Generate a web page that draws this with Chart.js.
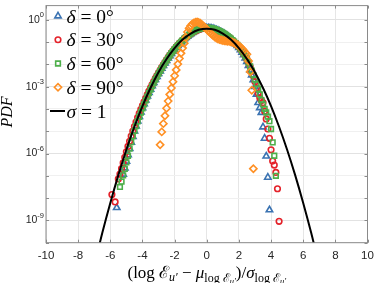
<!DOCTYPE html>
<html>
<head>
<meta charset="utf-8">
<script src="https://cdn.jsdelivr.net/npm/chart.js@4/dist/chart.umd.min.js"></script>
<style>
html, body { margin: 0; padding: 0; background: #fff; }
</style>
</head>
<body>
<canvas id="pdf" width="374" height="283"></canvas>
<script>
// bin centres of the normalised variable
const bins = [
	-5.9, -5.8, -5.7, -5.6, -5.5, -5.4, -5.3, -5.2, -5.1, -5.0,
	-4.9, -4.8, -4.7, -4.6, -4.5, -4.4, -4.3, -4.2, -4.1, -4.0,
	-3.9, -3.8, -3.7, -3.6, -3.5, -3.4, -3.3, -3.2, -3.1, -3.0,
	-2.9, -2.8, -2.7, -2.6, -2.5, -2.4, -2.3, -2.2, -2.1, -2.0,
	-1.9, -1.8, -1.7, -1.6, -1.5, -1.4, -1.3, -1.2, -1.1, -1.0,
	-0.9, -0.8, -0.7, -0.6, -0.5, -0.4, -0.3, -0.2, -0.1, 0.0,
	0.1, 0.2, 0.3, 0.4, 0.5, 0.6, 0.7, 0.8, 0.9, 1.0,
	1.1, 1.2, 1.3, 1.4, 1.5, 1.6, 1.7, 1.8, 1.9, 2.0,
	2.1, 2.2, 2.3, 2.4, 2.5, 2.6, 2.7, 2.8, 2.9, 3.0,
	3.1, 3.2, 3.3, 3.4, 3.5, 3.6, 3.7, 3.8, 3.9, 4.0,
	4.1, 4.2, 4.3, 4.4, 4.5,
]

// log10(PDF) per bin, null where there is no marker
const pdfDelta0 = [
	null, null, null, -8.43, null, null, null, -6.93, -6.65, -6.35,
	-6.06, -5.78, -5.50, -5.24, -5.00, -4.77, -4.55, -4.34, -4.14, -3.95,
	-3.77, -3.60, -3.43, -3.27, -3.12, -2.97, -2.82, -2.68, -2.55, -2.42,
	-2.30, -2.18, -2.06, -1.94, -1.83, -1.72, -1.62, -1.52, -1.42, -1.33,
	-1.24, -1.16, -1.08, -1.00, -0.93, -0.86, -0.80, -0.74, -0.68, -0.63,
	-0.58, -0.53, -0.49, -0.46, -0.43, -0.41, -0.39, -0.38, -0.37, -0.37,
	-0.37, -0.38, -0.39, -0.41, -0.43, -0.46, -0.49, -0.52, -0.56, -0.60,
	-0.64, -0.69, -0.74, -0.80, -0.86, -0.93, -1.00, -1.08, -1.16, -1.25,
	-1.35, -1.46, -1.58, -1.72, -1.88, -2.06, -2.26, -2.48, -2.70, -3.00,
	-3.35, -3.72, -3.95, -4.16, -4.81, -5.32, -6.12, -7.07, -8.53, null,
	null, null, null, null, null,
]
const pdfDelta30 = [
	-7.84, null, -8.17, null, -7.14, -6.92, -6.68, -6.42, -6.17, -5.92,
	-5.68, -5.45, -5.22, -5.00, -4.79, -4.59, -4.39, -4.20, -4.02, -3.85,
	-3.68, -3.52, -3.36, -3.20, -3.05, -2.91, -2.77, -2.63, -2.50, -2.38,
	-2.26, -2.14, -2.02, -1.91, -1.80, -1.69, -1.59, -1.49, -1.40, -1.31,
	-1.22, -1.14, -1.06, -0.99, -0.92, -0.85, -0.79, -0.73, -0.68, -0.63,
	-0.58, -0.54, -0.50, -0.47, -0.44, -0.42, -0.40, -0.39, -0.38, -0.38,
	-0.38, -0.39, -0.40, -0.42, -0.44, -0.46, -0.49, -0.52, -0.56, -0.60,
	-0.64, -0.69, -0.74, -0.80, -0.86, -0.92, -0.99, -1.06, -1.14, -1.22,
	-1.31, -1.41, -1.52, -1.64, -1.78, -1.93, -2.10, -2.30, -2.52, -2.78,
	-3.05, -3.30, -3.50, -3.62, -3.72, -4.10, -4.45, -4.90, -5.32, -5.83,
	-6.34, -6.52, -6.85, -7.58, -9.04,
]
const pdfDelta60 = [
	null, null, null, null, null, -7.50, -7.26, -6.98, -6.69, -6.40,
	-6.10, -5.78, -5.49, -5.22, -4.98, -4.77, -4.56, -4.36, -4.16, -3.97,
	-3.80, -3.62, -3.45, -3.29, -3.13, -2.98, -2.83, -2.69, -2.55, -2.42,
	-2.29, -2.17, -2.05, -1.93, -1.82, -1.71, -1.60, -1.50, -1.41, -1.32,
	-1.23, -1.15, -1.07, -0.99, -0.92, -0.85, -0.79, -0.73, -0.67, -0.62,
	-0.57, -0.52, -0.48, -0.45, -0.42, -0.40, -0.38, -0.37, -0.36, -0.36,
	-0.36, -0.37, -0.38, -0.40, -0.42, -0.45, -0.48, -0.51, -0.55, -0.59,
	-0.63, -0.68, -0.73, -0.79, -0.85, -0.91, -0.98, -1.05, -1.13, -1.21,
	-1.30, -1.40, -1.51, -1.63, -1.77, -1.92, -2.09, -2.28, -2.48, -2.68,
	-2.88, -3.10, -3.35, -3.60, -3.80, -4.00, -4.15, -4.35, -4.55, -4.90,
	-5.50, -6.10, -7.00, null, null,
]
const pdfDelta90 = [
	null, null, null, null, null, null, null, null, null, null,
	null, null, null, null, null, null, null, null, null, null,
	null, null, null, null, null, null, null, null, null, null,
	-5.61, -5.03, -4.66, -4.31, -3.97, -3.65, -3.35, -3.06, -2.78, -2.51,
	-2.25, -1.99, -1.74, -1.50, -1.27, -1.05, -0.80, -0.55, -0.38, -0.27,
	-0.19, -0.14, -0.11, -0.10, -0.12, -0.16, -0.22, -0.29, -0.36, -0.43,
	-0.50, -0.57, -0.64, -0.71, -0.77, -0.82, -0.86, -0.89, -0.91, -0.93,
	-0.94, -0.95, -0.96, -0.97, -0.99, -1.01, -1.04, -1.08, -1.12, -1.17,
	-1.23, -1.30, -1.38, -1.48, -1.55, -1.85, -2.33, -3.16, -6.68, null,
	null, null, null, null, null, null, null, null, null, null,
	null, null, null, null, null,
]

// reference curve (sigma = 1), log10(PDF)
const sigmaX = [-7, -6.5, -6, -5.5, -5, -4.5, -4, -3.5, -3, -2.5, -2, -1.5, -1, -0.5, 0,
	0.5, 1, 1.5, 2, 2.5, 3, 3.5, 4, 4.5, 5, 5.5, 6, 6.5, 7]
const sigmaPdf = [-11.04, -9.57, -8.22, -6.97, -5.83, -4.80, -3.87, -3.06, -2.35, -1.76, -1.27, -0.89, -0.62, -0.45, -0.40,
	-0.45, -0.62, -0.89, -1.27, -1.76, -2.35, -3.06, -3.87, -4.80, -5.83, -6.97, -8.22, -9.57, -11.04]

const deltaLabels = ['0', '30', '60', '90']
const yTickExponents = [0, -3, -6, -9]

const SERIF = '"Liberation Serif", "DejaVu Serif", serif'
const SANS = '"Liberation Sans", Arial, sans-serif'

const markers = [
	{ pointStyle: 'triangle', color: '#3b73b2', radius: 3.7 },
	{ pointStyle: 'circle', color: '#e4222a', radius: 2.8 },
	{ pointStyle: 'rect', color: '#4daf4a', radius: 3.3 },
	{ pointStyle: 'rectRot', color: '#ff9024', radius: 3.6 },
]
const markerLine = 1.6

function toPoints(xs, logs) {
	const points = []
	logs.forEach((v, i) => {
		if (v !== null) points.push({ x: xs[i], y: Math.pow(10, v) })
	})
	return points
}

const seriesLogs = [pdfDelta0, pdfDelta30, pdfDelta60, pdfDelta90]
const datasets = seriesLogs.map((logs, i) => ({
	label: deltaLabels[i],
	data: toPoints(bins, logs),
	showLine: false,
	pointStyle: markers[i].pointStyle,
	pointRadius: markers[i].radius,
	pointBorderWidth: markerLine,
	pointBorderColor: markers[i].color,
	pointBackgroundColor: 'rgba(0,0,0,0)',
	order: 4 - i,
}))
datasets.push({
	label: 'sigma',
	data: toPoints(sigmaX, sigmaPdf),
	showLine: true,
	borderColor: '#000',
	borderWidth: 2,
	pointRadius: 0,
	cubicInterpolationMode: 'monotone',
	order: 0,
})

// box, inner ticks, y labels, axis titles and the legend
const decorations = {
	id: 'decorations',
	afterDraw(chart) {
		const ctx = chart.ctx
		const area = chart.chartArea
		const xs = chart.scales.x
		const ys = chart.scales.y
		ctx.save()

		ctx.strokeStyle = '#8a8a8a'
		ctx.lineWidth = 1
		ctx.strokeRect(area.left, area.top, area.right - area.left, area.bottom - area.top)
		ctx.beginPath()
		xs.ticks.forEach((t) => {
			const px = Math.round(xs.getPixelForValue(t.value)) + 0.5
			ctx.moveTo(px, area.bottom); ctx.lineTo(px, area.bottom - 3)
			ctx.moveTo(px, area.top); ctx.lineTo(px, area.top + 3)
		})
		ys.ticks.forEach((t) => {
			const py = Math.round(ys.getPixelForValue(t.value)) + 0.5
			ctx.moveTo(area.left, py); ctx.lineTo(area.left + 3, py)
			ctx.moveTo(area.right, py); ctx.lineTo(area.right - 3, py)
		})
		ctx.stroke()

		// y tick labels 10^n
		ctx.fillStyle = '#262626'
		ctx.textBaseline = 'middle'
		yTickExponents.forEach((e) => {
			const py = ys.getPixelForValue(Math.pow(10, e))
			const exp = String(e)
			ctx.font = '7.5px ' + SANS
			const ew = ctx.measureText(exp).width
			ctx.textAlign = 'right'
			ctx.fillText(exp, area.left - 2, py - 4.5)
			ctx.font = '10.5px ' + SANS
			ctx.fillText('10', area.left - 2 - ew, py)
		})

		// y title
		ctx.save()
		ctx.translate(8, 112)
		ctx.rotate(-Math.PI / 2)
		ctx.textAlign = 'center'
		ctx.textBaseline = 'middle'
		ctx.fillStyle = '#000'
		ctx.font = 'italic 16px ' + SERIF
		ctx.fillText('PDF', 0, 0)
		ctx.restore()

		// x title
		const S = 17, s1 = 12, s2 = 8.5
		const runs = [
			{ t: '(log ', size: S },
			{ t: 'ℰ', size: S },
			{ t: 'u′', size: s1, dy: 3, italic: true },
			{ t: ' − ', size: S },
			{ t: 'μ', size: S, italic: true },
			{ t: 'log ', size: s1, dy: 3.5 },
			{ t: 'ℰ', size: s1, dy: 3.5 },
			{ t: 'u′', size: s2, dy: 5.5, italic: true },
			{ t: ')/', size: S },
			{ t: 'σ', size: S, italic: true },
			{ t: 'log ', size: s1, dy: 3.5 },
			{ t: 'ℰ', size: s1, dy: 3.5 },
			{ t: 'u′', size: s2, dy: 5.5, italic: true },
		]
		ctx.fillStyle = '#000'
		drawRuns(ctx, runs, (area.left + area.right) / 2, 278)

		// legend
		const rowY = [16, 39.75, 63.5, 87.25, 111]
		deltaLabels.forEach((d, i) => {
			ctx.strokeStyle = markers[i].color
			ctx.fillStyle = 'rgba(0,0,0,0)'
			ctx.lineWidth = markerLine
			Chart.helpers.drawPoint(ctx, { pointStyle: markers[i].pointStyle, radius: markers[i].radius, rotation: 0, borderWidth: markerLine }, 58, rowY[i])
			ctx.fillStyle = '#000'
			drawRuns(ctx, [
				{ t: 'δ', size: 19.5, italic: true },
				{ t: ' = ' + d + '°', size: 19.5 },
			], null, rowY[i] + 6.5, 66.5)
		})
		ctx.strokeStyle = '#000'
		ctx.lineWidth = 2
		ctx.beginPath()
		ctx.moveTo(50, rowY[4]); ctx.lineTo(65, rowY[4])
		ctx.stroke()
		ctx.fillStyle = '#000'
		drawRuns(ctx, [
			{ t: 'σ', size: 19.5, italic: true },
			{ t: ' = 1', size: 19.5 },
		], null, rowY[4] + 6.5, 66.5)

		ctx.restore()
	},
}

function drawRuns(ctx, runs, cx, baseY, startX) {
	const fontOf = (r) => (r.italic ? 'italic ' : '') + r.size + 'px ' + SERIF
	let total = 0
	runs.forEach((r) => {
		ctx.font = fontOf(r)
		r.w = ctx.measureText(r.t).width
		total += r.w
	})
	let x = startX !== undefined ? startX : cx - total / 2
	ctx.textAlign = 'left'
	ctx.textBaseline = 'alphabetic'
	runs.forEach((r) => {
		ctx.font = fontOf(r)
		ctx.fillText(r.t, x, baseY + (r.dy || 0))
		x += r.w
	})
}

new Chart(document.getElementById('pdf'), {
	type: 'scatter',
	data: { datasets },
	options: {
		responsive: false,
		animation: false,
		devicePixelRatio: 1,
		layout: { padding: { left: 0, right: 6.5, top: 0.5, bottom: 0 } },
		plugins: {
			legend: { display: false },
			tooltip: { enabled: false },
		},
		scales: {
			x: {
				type: 'linear',
				min: -10,
				max: 10,
				ticks: {
					stepSize: 2,
					autoSkip: false,
					maxRotation: 0,
					padding: 6,
					color: '#262626',
					font: { family: SANS, size: 11.5 },
				},
				grid: { color: '#e6e6e6', drawTicks: false },
				border: { display: false },
				afterFit: (s) => { s.height = 40.3; s.paddingLeft = 0; s.paddingRight = 0 },
			},
			y: {
				type: 'logarithmic',
				min: 1e-10,
				max: 4.31,
				ticks: { display: false },
				grid: {
					drawTicks: false,
					color: (c) => yTickExponents.includes(Math.round(Math.log10(c.tick.value))) ? '#e2e2e2' : '#f0f0f0',
				},
				border: { display: false },
				afterBuildTicks: (s) => {
					const ticks = []
					for (let e = -10; e <= 0; e++) ticks.push({ value: Math.pow(10, e) })
					s.ticks = ticks
				},
				afterFit: (s) => { s.width = 46 },
			},
		},
	},
	plugins: [decorations],
})
</script>
</body>
</html>
